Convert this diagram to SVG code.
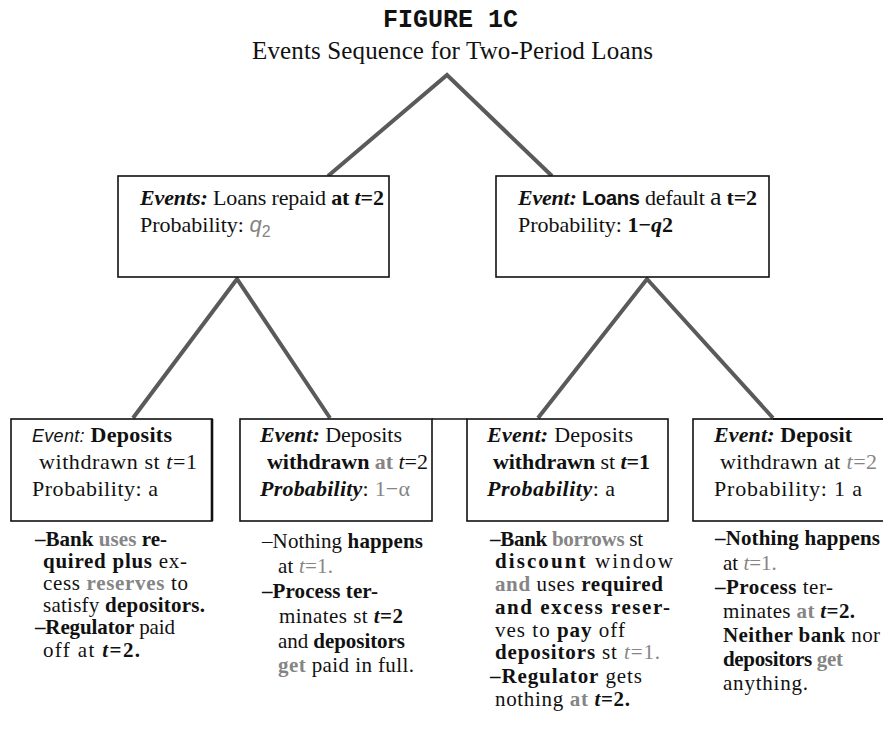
<svg xmlns="http://www.w3.org/2000/svg" width="883" height="734" viewBox="0 0 883 734">
<style>
text{font-family:"Liberation Serif","Times New Roman",serif;font-size:21px;fill:#111}
.b{font-weight:bold}
.i{font-style:italic}
.g{fill:#858585}
.s{font-family:"Liberation Sans",Arial,sans-serif}
.box{fill:#fff;stroke:#111;stroke-width:1.6}
.mid{font-size:22px}
.bx{font-size:22px}
.conn{stroke:#5a5a5a;stroke-width:4;fill:none;stroke-linecap:butt;stroke-linejoin:miter}
</style>
<rect width="883" height="734" fill="#fff"/>
<g id="title">
<text x="383" y="27" textLength="135" lengthAdjust="spacingAndGlyphs" style="font-family:'Liberation Mono','Courier New',monospace;font-weight:bold;font-size:25px">FIGURE 1C</text>
<text x="252" y="59" textLength="401" lengthAdjust="spacing" style="font-size:25px">Events Sequence for Two-Period Loans</text>
</g>
<g id="connectors">
<polyline class="conn" points="328,176 447,75 552,176"/>
<polyline class="conn" points="133,418 237,279 330,418"/>
<polyline class="conn" points="538,418 647,279 773,418"/>
</g>
<g id="node-repaid">
<rect class="box" x="118" y="176" width="271" height="101"/>
<text class="mid" x="140" y="205" textLength="244" lengthAdjust="spacing"><tspan class="b i">Events:</tspan> Loans repaid <tspan class="b">at </tspan><tspan class="b i">t</tspan><tspan class="b">=2</tspan></text>
<text class="mid" x="140" y="232">Probability:  <tspan class="i g s">q</tspan><tspan class="g s" dy="5" font-size="16">2</tspan></text>
</g>
<g id="node-default">
<rect class="box" x="496" y="176" width="273" height="101"/>
<text class="mid" x="518" y="205" textLength="239" lengthAdjust="spacing"><tspan class="b i">Event:</tspan> <tspan class="b s" font-size="20">Loans</tspan> default <tspan font-size="26">a</tspan> <tspan class="b">t=2</tspan></text>
<text class="mid" x="518" y="232">Probability:  <tspan class="b">1−</tspan><tspan class="b i">q</tspan><tspan class="b">2</tspan></text>
</g>
<g id="node-leaf1">
<rect class="box" x="11" y="419" width="201" height="102"/>
<line x1="212" y1="419" x2="212" y2="521" stroke="#111" stroke-width="2.6"/>
<text class="bx" x="32" y="442" textLength="140" lengthAdjust="spacing"><tspan class="i s" font-size="18">Event:</tspan> <tspan class="b">Deposits</tspan></text>
<text class="bx" x="39" y="469" textLength="158" lengthAdjust="spacing">withdrawn st <tspan class="i">t</tspan>=1</text>
<text class="bx" x="32" y="496" textLength="126" lengthAdjust="spacing">Probability:  a</text>
<text x="35" y="546" textLength="132" lengthAdjust="spacing"><tspan class="b">–Bank </tspan><tspan class="b g">uses</tspan><tspan class="b"> re-</tspan></text>
<text x="43" y="568" textLength="144" lengthAdjust="spacing"><tspan class="b">quired plus</tspan> ex-</text>
<text x="43" y="590" textLength="145" lengthAdjust="spacing">cess <tspan class="b g">reserves</tspan> to</text>
<text x="43" y="612" textLength="162" lengthAdjust="spacing">satisfy <tspan class="b">depositors.</tspan></text>
<text x="35" y="634" textLength="140" lengthAdjust="spacing"><tspan class="b">–Regulator</tspan> paid</text>
<text x="43" y="657" textLength="97" lengthAdjust="spacing">off at <tspan class="b i">t</tspan><tspan class="b">=2.</tspan></text>
</g>
<g id="node-leaf2">
<rect class="box" x="240" y="419" width="192" height="102"/>
<line x1="432" y1="419" x2="467" y2="419" stroke="#111" stroke-width="1.6"/>
<text class="bx" x="260" y="442" textLength="142" lengthAdjust="spacing"><tspan class="b i">Event:</tspan> Deposits</text>
<text class="bx" x="267" y="469" textLength="161" lengthAdjust="spacing"><tspan class="b">withdrawn </tspan><tspan class="b g">at</tspan> <tspan class="i">t</tspan>=2</text>
<text class="bx" x="260" y="496" textLength="150" lengthAdjust="spacing"><tspan class="b i">Probability</tspan>: <tspan class="g">1−α</tspan></text>
<text x="262" y="548" textLength="161" lengthAdjust="spacing">–Nothing <tspan class="b">happens</tspan></text>
<text x="278" y="573" textLength="55" lengthAdjust="spacing">at <tspan class="g"><tspan class="i">t</tspan>=1.</tspan></text>
<text x="262" y="598" textLength="116" lengthAdjust="spacing" class="b">–Process ter-</text>
<text x="279" y="623" textLength="124" lengthAdjust="spacing">minates st <tspan class="b i">t</tspan><tspan class="b">=2</tspan></text>
<text x="278" y="648" textLength="127" lengthAdjust="spacing">and <tspan class="b">depositors</tspan></text>
<text x="278" y="672" textLength="136" lengthAdjust="spacing"><tspan class="b g">get</tspan> paid in full.</text>
</g>
<g id="node-leaf3">
<rect class="box" x="467" y="419" width="201" height="102"/>
<text class="bx" x="487" y="442" textLength="146" lengthAdjust="spacing"><tspan class="b i">Event:</tspan> Deposits</text>
<text class="bx" x="493" y="469" textLength="157" lengthAdjust="spacing"><tspan class="b">withdrawn</tspan> st <tspan class="b i">t</tspan><tspan class="b">=1</tspan></text>
<text class="bx" x="487" y="496" textLength="128" lengthAdjust="spacing"><tspan class="b i">Probability</tspan>: a</text>
<text x="490" y="546" textLength="153" lengthAdjust="spacing"><tspan class="b">–Bank </tspan><tspan class="b g">borrows</tspan> st</text>
<text x="495" y="568" textLength="178" lengthAdjust="spacing"><tspan class="b">discount</tspan> window</text>
<text x="495" y="591" textLength="168" lengthAdjust="spacing"><tspan class="b g">and</tspan> uses <tspan class="b">required</tspan></text>
<text x="495" y="614" textLength="175" lengthAdjust="spacing" class="b">and excess reser-</text>
<text x="495" y="637" textLength="130" lengthAdjust="spacing">ves to <tspan class="b">pay</tspan> off</text>
<text x="495" y="659" textLength="165" lengthAdjust="spacing"><tspan class="b">depositors</tspan> st <tspan class="g"><tspan class="i">t</tspan>=1.</tspan></text>
<text x="490" y="683" textLength="152" lengthAdjust="spacing"><tspan class="b">–Regulator</tspan> gets</text>
<text x="495" y="706" textLength="135" lengthAdjust="spacing">nothing <tspan class="b g">at</tspan> <tspan class="b i">t</tspan><tspan class="b">=2.</tspan></text>
</g>
<g id="node-leaf4">
<rect class="box" x="693" y="419" width="200" height="102"/>
<line x1="773" y1="419" x2="883" y2="419" stroke="#111" stroke-width="2"/>
<text class="bx" x="714" y="442" textLength="138" lengthAdjust="spacing"><tspan class="b i">Event:</tspan> <tspan class="b">Deposit</tspan></text>
<text class="bx" x="720" y="469" textLength="157" lengthAdjust="spacing">withdrawn at <tspan class="g"><tspan class="i">t</tspan>=2</tspan></text>
<text class="bx" x="714" y="496" textLength="148" lengthAdjust="spacing">Probability:  1   a</text>
<text x="715" y="545" textLength="165" lengthAdjust="spacing" class="b">–Nothing happens</text>
<text x="723" y="570">at <tspan class="g"><tspan class="i">t</tspan>=1.</tspan></text>
<text x="715" y="594" textLength="118" lengthAdjust="spacing"><tspan class="b">–Process</tspan> ter-</text>
<text x="723" y="618" textLength="132" lengthAdjust="spacing">minates <tspan class="b g">at</tspan> <tspan class="b i">t</tspan><tspan class="b">=2.</tspan></text>
<text x="723" y="642" textLength="157" lengthAdjust="spacing"><tspan class="b">Neither bank</tspan> nor</text>
<text x="723" y="666" textLength="120" lengthAdjust="spacing"><tspan class="b">depositors</tspan> <tspan class="b g">get</tspan></text>
<text x="723" y="690" textLength="85" lengthAdjust="spacing">anything.</text>
</g>
</svg>
